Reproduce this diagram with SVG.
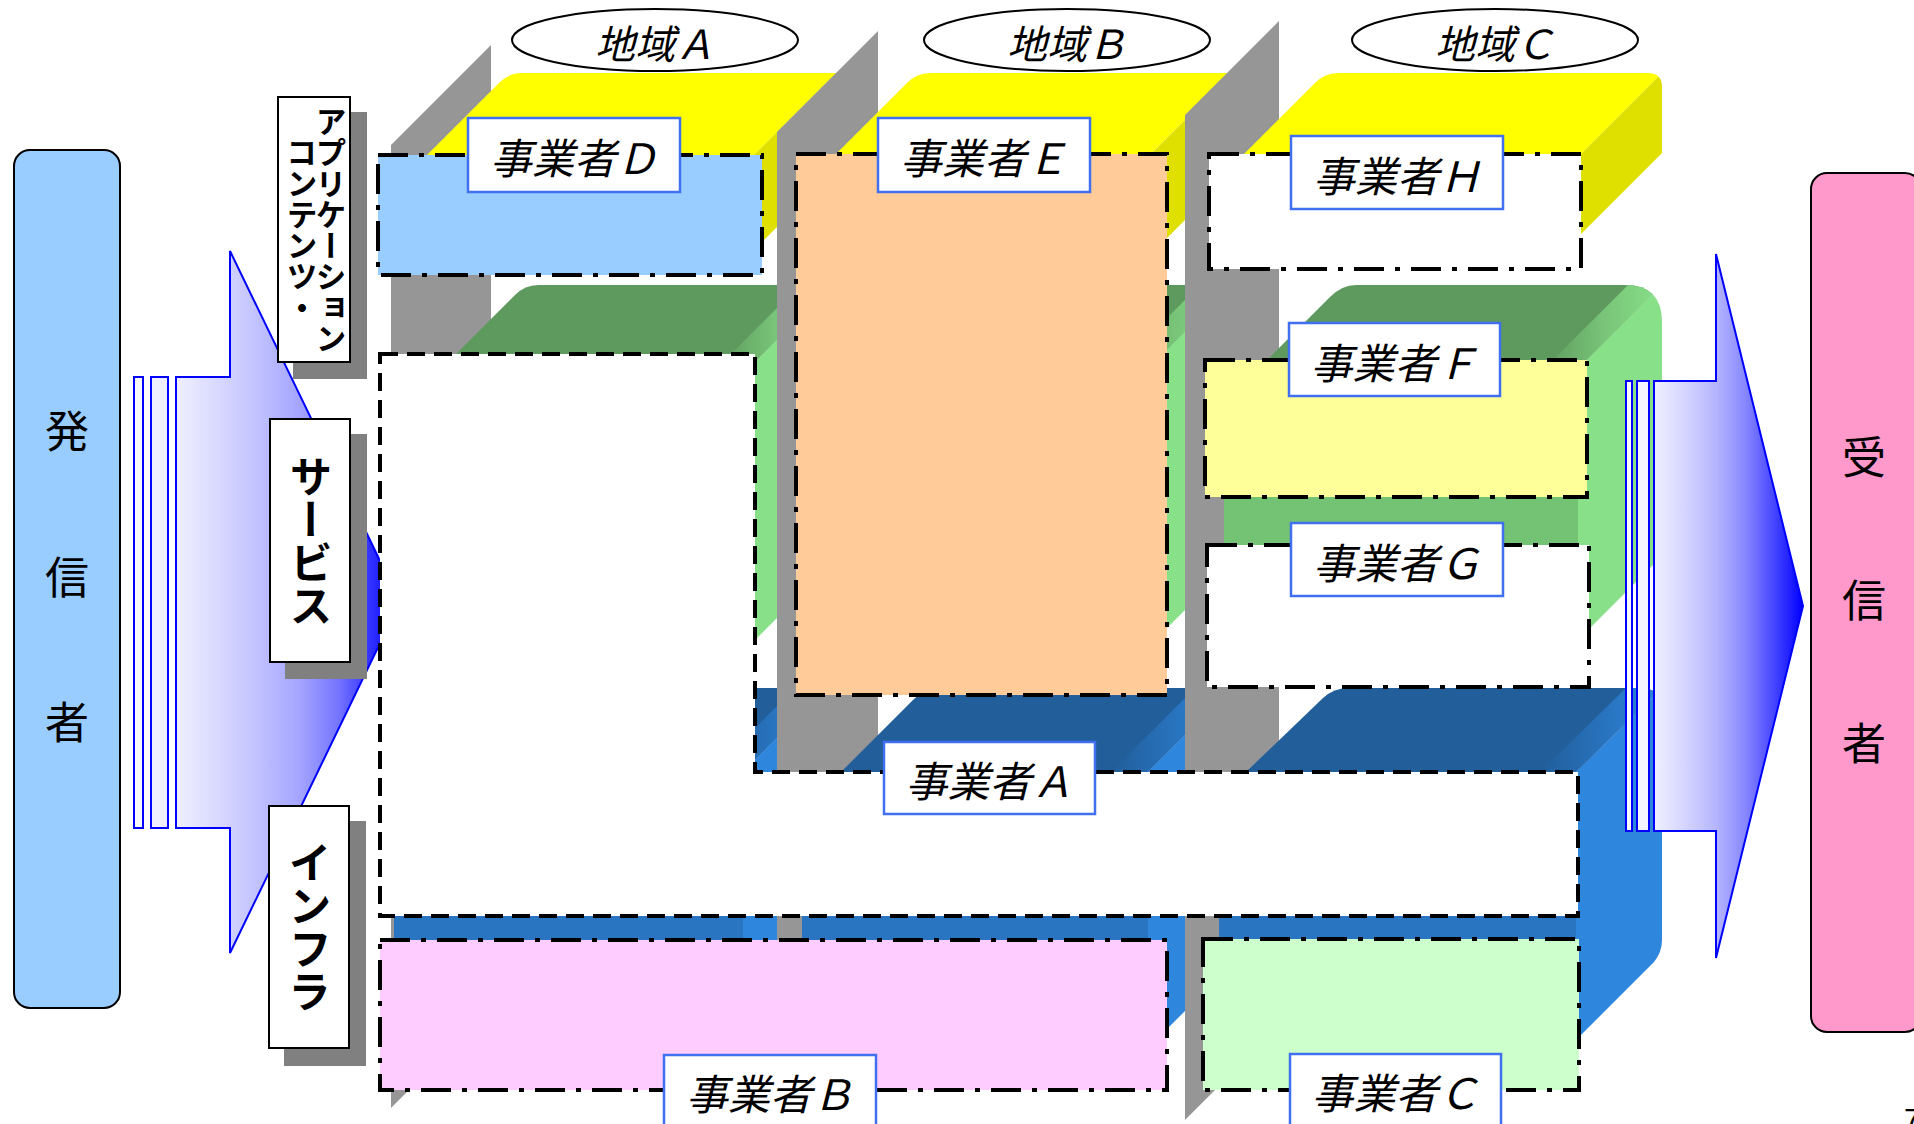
<svg xmlns="http://www.w3.org/2000/svg" width="1914" height="1124" viewBox="0 0 1914 1124">
<defs>
<style>
.wall{fill:#969696}
.yt{fill:#FFFF00}.ys{fill:#E0E000}
.gt{fill:#5E9A5E}.gf{fill:#74C274}.gs{fill:#88E088}
.bt{fill:#215E9A}.bf{fill:#2A75C2}.bs{fill:#2E86DD}
.gb{fill:url(#gBand)}.bb{fill:url(#bBand)}
.dd{stroke:#000;stroke-width:4;stroke-dasharray:30 11 5 11}
.ds{stroke:#000;stroke-width:4;stroke-dasharray:18 9}
.lb{fill:#fff;stroke:#4070F0;stroke-width:2.5}
.lt{font-family:"Noto Sans CJK JP","Noto Sans CJK SC",sans-serif;font-size:42px;font-style:italic;text-anchor:middle;fill:#000}
.rt{font-family:"Noto Sans CJK JP","Noto Sans CJK SC",sans-serif;font-size:40px;font-style:italic;text-anchor:middle;fill:#000}
.el{fill:#fff;stroke:#000;stroke-width:2}
.lay{fill:#fff;stroke:#000;stroke-width:2}
.sh{fill:#808080}
.vt{font-family:"Noto Sans CJK JP","Noto Sans CJK SC",sans-serif;font-weight:700;writing-mode:vertical-rl;text-anchor:middle;fill:#000}
.big{font-family:"Noto Sans CJK JP","Noto Sans CJK SC",sans-serif;font-size:44px;text-anchor:middle;fill:#000}
.arr{stroke:#0000FF;stroke-width:2}
</style>
<linearGradient id="gBand" x1="0" y1="0" x2="1" y2="0">
<stop offset="0" stop-color="#5E9A5E"/><stop offset="0.5" stop-color="#78C478"/><stop offset="1" stop-color="#88E088"/>
</linearGradient>
<linearGradient id="bBand" x1="0" y1="0" x2="1" y2="0">
<stop offset="0" stop-color="#215E9A"/><stop offset="0.5" stop-color="#2872BC"/><stop offset="1" stop-color="#2E86DD"/>
</linearGradient>
<linearGradient id="laG" gradientUnits="userSpaceOnUse" x1="176" y1="0" x2="400" y2="0">
<stop offset="0" stop-color="#F0F0FF"/><stop offset="0.33" stop-color="#C6C6FF"/><stop offset="0.55" stop-color="#A5A5FF"/><stop offset="0.73" stop-color="#7373FF"/><stop offset="0.87" stop-color="#3030FF"/><stop offset="1" stop-color="#0000FF"/>
</linearGradient>
<linearGradient id="raG" gradientUnits="userSpaceOnUse" x1="1654" y1="0" x2="1803" y2="0">
<stop offset="0" stop-color="#F0F0FF"/><stop offset="0.24" stop-color="#D0D0FF"/><stop offset="0.42" stop-color="#B4B4FF"/><stop offset="0.61" stop-color="#8888FF"/><stop offset="0.81" stop-color="#4444FF"/><stop offset="1" stop-color="#0000FF"/>
</linearGradient>
<clipPath id="cY"><path d="M1200,73 L1648,73 Q1662,73 1662,87 L1662,400 L1200,400 Z"/></clipPath>
<clipPath id="cG"><path d="M1200,285 L1625,285 Q1662,285 1662,322 L1662,700 L1200,700 Z"/></clipPath>
<clipPath id="cB"><path d="M1200,688 L1640,688 Q1662,688 1662,710 L1662,1100 L1200,1100 Z"/></clipPath>
</defs>

<rect x="0" y="0" width="1914" height="1124" fill="#fff"/>

<g id="layers-3d">
  <path class="wall" d="M391,145 L491,45 L491,1008 L391,1108 Z"/>
  <g id="slabs-region-A">
    <rect class="yt" x="427" y="155" width="327" height="95"/>
    <path class="yt" d="M427,155 L499,83 Q509,73 522,73 L836,73 L754,155 Z"/>
    <path class="ys" d="M754,155 L836,73 L836,168 L754,250 Z"/>
    <rect class="gf" x="443" y="367" width="307" height="278"/>
    <path class="gt" d="M443,367 L515,295 Q525,285 538,285 L832,285 L750,367 Z"/>
    <path class="gb" d="M718,367 L800,285 L832,285 L750,367 Z"/>
    <path class="gs" d="M750,367 L832,285 L832,563 L750,645 Z"/>
    <rect class="bf" x="394" y="772" width="349" height="268"/>
    <path class="bt" d="M394,772 L478,688 L827,688 L743,772 Z"/>
    <path class="bb" d="M711,772 L795,688 L827,688 L743,772 Z"/>
    <path class="bs" d="M743,772 L827,688 L827,956 L743,1040 Z"/>
  </g>
  <path class="wall" d="M777,132 L878,31 L878,995 L777,1096 Z"/>
  <g id="slabs-region-B">
    <rect class="yt" x="835" y="155" width="315" height="100"/>
    <path class="yt" d="M835,155 L907,83 Q917,73 930,73 L1232,73 L1150,155 Z"/>
    <path class="ys" d="M1150,155 L1232,73 L1232,173 L1150,255 Z"/>
    <rect class="gf" x="840" y="367" width="310" height="278"/>
    <path class="gt" d="M840,367 L912,295 Q922,285 935,285 L1232,285 L1150,367 Z"/>
    <path class="gb" d="M1118,367 L1200,285 L1232,285 L1150,367 Z"/>
    <path class="gs" d="M1150,367 L1232,285 L1232,563 L1150,645 Z"/>
    <rect class="bf" x="802" y="772" width="346" height="276"/>
    <path class="bt" d="M841,772 L914,699 Q925,688 939,688 L1232,688 L1148,772 Z"/>
    <path class="bb" d="M1111,772 L1195,688 L1232,688 L1148,772 Z"/>
    <path class="bs" d="M1148,772 L1232,688 L1232,964 L1148,1048 Z"/>
  </g>
  <path class="wall" d="M1185,115 L1279,21 L1279,1026 L1185,1120 Z"/>
  <g id="slabs-region-C">
    <g clip-path="url(#cY)">
      <rect class="yt" x="1243" y="155" width="337" height="80"/>
      <path class="yt" d="M1243,155 L1315,83 Q1325,73 1338,73 L1662,73 L1580,155 Z"/>
      <path class="ys" d="M1580,155 L1662,73 L1662,153 L1580,235 Z"/>
    </g>
    <g clip-path="url(#cG)">
      <rect class="gf" x="1224" y="369" width="354" height="271"/>
      <path class="gt" d="M1258,369 L1330,297 Q1342,285 1356,285 L1662,285 L1578,369 Z"/>
      <path class="gb" d="M1544,369 L1628,285 L1662,285 L1578,369 Z"/>
      <path class="gs" d="M1578,369 L1662,285 L1662,556 L1578,640 Z"/>
    </g>
    <g clip-path="url(#cB)">
      <rect class="bf" x="1219" y="772" width="357" height="268"/>
      <path class="bt" d="M1246,772 L1323,698 Q1334,688 1348,688 L1662,688 L1576,772 Z"/>
      <path class="bb" d="M1540,772 L1626,688 L1662,688 L1576,772 Z"/>
      <path class="bs" d="M1576,772 L1662,688 L1662,940 Q1662,952 1654,962 L1576,1040 Z"/>
    </g>
  </g>
</g>

<g id="sender">
  <rect x="14" y="150" width="106" height="858" rx="16" fill="#99CCFF" stroke="#000" stroke-width="2"/>
  <text class="big" x="67" y="448">発</text>
  <text class="big" x="67" y="594">信</text>
  <text class="big" x="67" y="739">者</text>
</g>

<g id="receiver">
  <rect x="1811" y="173" width="110" height="859" rx="16" fill="#FF99CC" stroke="#000" stroke-width="2"/>
  <text class="big" x="1864" y="474">受</text>
  <text class="big" x="1864" y="617">信</text>
  <text class="big" x="1864" y="760">者</text>
</g>

<g id="connectors">
  <g id="arrow-send">
    <rect class="arr" x="134" y="377" width="9" height="451" fill="#F8F8FF"/>
    <rect class="arr" x="151" y="377" width="17" height="451" fill="#EEEEFF"/>
    <path class="arr" fill="url(#laG)" d="M176,377 L230,377 L230,251 L400,602 L230,953 L230,828 L176,828 Z"/>
  </g>
  <g id="arrow-receive">
    <rect class="arr" x="1626" y="381" width="6" height="450" fill="#F8F8FF"/>
    <rect class="arr" x="1637" y="381" width="12" height="450" fill="#F4F4FF"/>
    <path class="arr" fill="url(#raG)" d="M1654,381 L1716,381 L1716,254 L1803,606 L1716,958 L1716,831 L1654,831 Z"/>
  </g>
</g>

<g id="provider-D">
  <rect class="dd" x="378" y="155" width="384" height="120" fill="#99CCFF"/>
  <rect class="lb" x="468" y="118" width="212" height="74"/>
  <text class="lt" x="574" y="174">事業者Ｄ</text>
</g>
<g id="provider-E">
  <rect class="dd" x="796" y="154" width="371" height="541" fill="#FFCC99"/>
  <rect class="lb" x="878" y="118" width="212" height="74"/>
  <text class="lt" x="984" y="174">事業者Ｅ</text>
</g>
<g id="provider-H">
  <rect class="dd" x="1209" y="154" width="372" height="115" fill="#FFFFFF"/>
  <rect class="lb" x="1291" y="136" width="212" height="73"/>
  <text class="lt" x="1397" y="192">事業者Ｈ</text>
</g>
<g id="provider-F">
  <rect class="dd" x="1205" y="360" width="382" height="137" fill="#FFFF99"/>
  <rect class="lb" x="1289" y="323" width="211" height="73"/>
  <text class="lt" x="1394.5" y="379">事業者Ｆ</text>
</g>
<g id="provider-G">
  <rect class="dd" x="1207" y="545" width="382" height="142" fill="#FFFFFF"/>
  <rect class="lb" x="1291" y="523" width="212" height="73"/>
  <text class="lt" x="1397" y="579">事業者Ｇ</text>
</g>
<g id="provider-A">
  <path class="ds" d="M380,354 L755,354 L755,772 L1578,772 L1578,916 L380,916 Z" fill="#FFFFFF"/>
  <rect class="lb" x="884" y="742" width="211" height="72"/>
  <text class="lt" x="989.5" y="797">事業者Ａ</text>
</g>
<g id="provider-B">
  <rect class="dd" x="380" y="940" width="787" height="150" fill="#FFCCFF"/>
  <rect class="lb" x="664" y="1055" width="212" height="80"/>
  <text class="lt" x="770" y="1110">事業者Ｂ</text>
</g>
<g id="provider-C">
  <rect class="dd" x="1203" y="939" width="376" height="151" fill="#CCFFCC"/>
  <rect class="lb" x="1290" y="1054" width="211" height="80"/>
  <text class="lt" x="1395.5" y="1109">事業者Ｃ</text>
</g>

<g id="layer-app">
  <rect class="sh" x="293" y="112" width="74" height="267"/>
  <rect class="lay" x="278" y="97" width="72" height="265"/>
  <text class="vt" x="331" y="230" font-size="31">アプリケーション</text>
  <text class="vt" x="302" y="230" font-size="31">コンテンツ・</text>
</g>
<g id="layer-service">
  <rect class="sh" x="285" y="434" width="82" height="245"/>
  <rect class="lay" x="270" y="419" width="80" height="243"/>
  <text class="vt" x="311" y="541" font-size="43">サービス</text>
</g>
<g id="layer-infra">
  <rect class="sh" x="284" y="821" width="82" height="245"/>
  <rect class="lay" x="269" y="806" width="80" height="242"/>
  <text class="vt" x="310" y="927" font-size="43">インフラ</text>
</g>

<g id="region-A">
  <ellipse class="el" cx="655" cy="40" rx="143" ry="31"/>
  <text class="rt" x="655" y="59">地域Ａ</text>
</g>
<g id="region-B">
  <ellipse class="el" cx="1067" cy="40" rx="143" ry="31"/>
  <text class="rt" x="1067" y="59">地域Ｂ</text>
</g>
<g id="region-C">
  <ellipse class="el" cx="1495" cy="40" rx="143" ry="31"/>
  <text class="rt" x="1495" y="59">地域Ｃ</text>
</g>

<text x="1904" y="1129" font-family="Liberation Sans, sans-serif" font-size="30" fill="#000">7</text>
</svg>
